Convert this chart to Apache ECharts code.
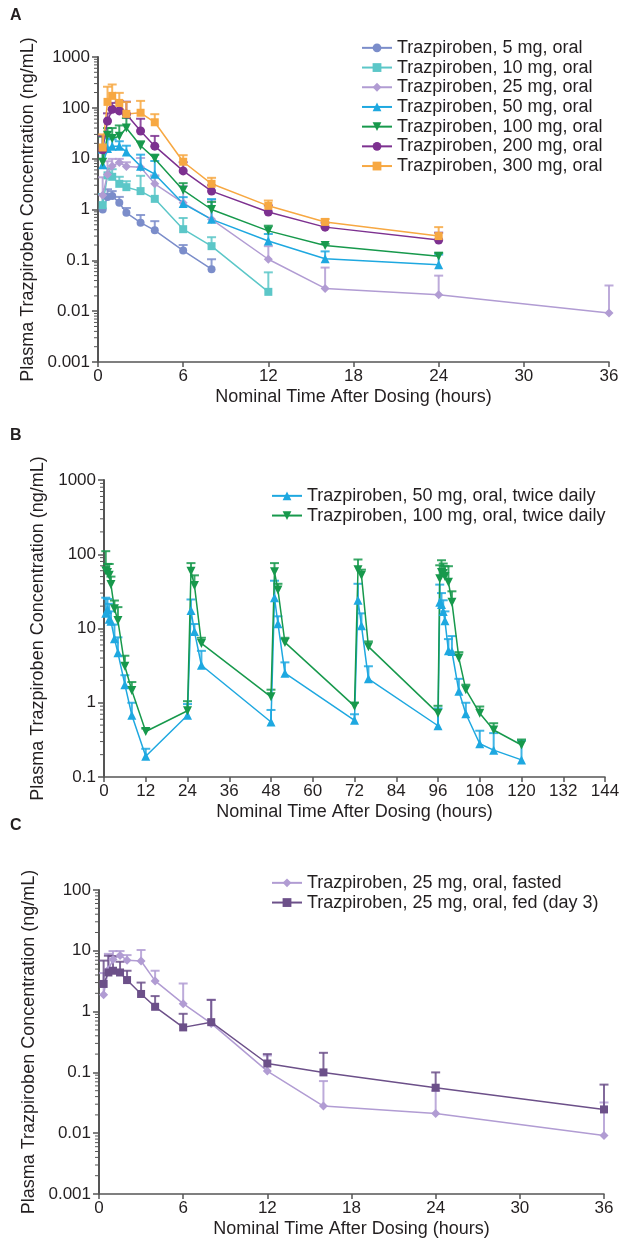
<!DOCTYPE html>
<html>
<head>
<meta charset="utf-8">
<script src="https://cdn.jsdelivr.net/npm/echarts@6/dist/echarts.min.js"></script>
<style>
  html, body { margin: 0; padding: 0; background: #fff; }
  #chart { width: 623px; height: 1241px; }
</style>
</head>
<body>
<div id="chart"></div>
<script>
// ---- Panel A: single oral doses ----
const timesA = [0.33, 0.67, 1, 1.5, 2, 3, 4, 6, 8, 12, 16, 24, 36];
const namesA = [
  'Trazpiroben, 5 mg, oral', 'Trazpiroben, 10 mg, oral', 'Trazpiroben, 25 mg, oral',
  'Trazpiroben, 50 mg, oral', 'Trazpiroben, 100 mg, oral', 'Trazpiroben, 200 mg, oral',
  'Trazpiroben, 300 mg, oral'
];
const mean5 = [1.0, 1.77, 1.85, 1.35, 0.86, 0.55, 0.39, 0.156, 0.067, null, null, null, null];
const upper5 = [2.0, 2.5, 2.3, 1.77, 1.07, 0.78, 0.59, 0.2, 0.105, null, null, null, null];
const mean10 = [1.22, 4.7, 4.4, 3.2, 2.75, 2.3, 1.62, 0.41, 0.19, 0.024, null, null, null];
const upper10 = [2.0, 6.5, 6.2, 4.4, 3.6, 4.6, 4.5, 0.68, 0.285, 0.058, null, null, null];
const mean25 = [1.9, 4.9, 7.2, 8.4, 7.0, 6.8, 3.2, 1.35, 0.64, 0.105, 0.028, 0.021, 0.0092];
const upper25 = [4.3, 8.9, 9.9, 9.9, 8.5, 10.3, 4.7, 2.9, 1.56, 0.19, 0.072, 0.05, 0.032];
const mean50 = [7.6, 15.9, 17.6, 17.6, 13.6, 7.1, 4.96, 1.31, 0.64, 0.24, 0.107, 0.082, null];
const upper50 = [13, 25, 24, 22, 18, 12, 9, 1.75, 1.6, 0.33, 0.15, 0.13, null];
const mean100 = [8.5, 29, 25, 27.7, 40, 17.9, 10, 2.4, 1.0, 0.38, 0.195, 0.12, null];
const upper100 = [27, 40, 40, 45, 63, 22, 12, 3.3, 1.41, 0.48, 0.21, 0.14, null];
const mean200 = [15, 55, 94, 87, 75, 35, 17.6, 5.75, 2.3, 0.89, 0.45, 0.25, null];
const upper200 = [28, 78, 125, 135, 132, 61, 28, 8.5, 3.0, 1.2, 0.55, 0.35, null];
const mean300 = [16.6, 131, 172, 125, 76, 80, 52, 8.7, 3.2, 1.18, 0.57, 0.3, null];
const upper300 = [30, 260, 288, 197, 130, 137, 75, 11.7, 4.2, 1.5, 0.65, 0.45, null];

// ---- Panel B: twice-daily dosing ----
const timesB = [0.5, 1, 1.5, 2, 3, 4, 6, 8, 12, 24, 25, 26, 28, 48, 49, 50, 52, 72, 73, 74, 76,
                96, 96.5, 97, 97.5, 98, 99, 100, 102, 104, 108, 112, 120];
const namesB = ['Trazpiroben, 50 mg, oral, twice daily', 'Trazpiroben, 100 mg, oral, twice daily'];
const meanB50 = [16, 18, 13.3, 12.5, 7.3, 4.7, 1.75, 0.68, 0.19, 0.68, 17.5, 9.1, 3.2, 0.55, 26, 11.6, 2.5,
                 0.58, 24, 10.9, 2.1, 0.49, 22.6, 21, 17, 12.7, 5.0, 4.9, 1.43, 0.71, 0.28, 0.23, 0.17];
const upperB50 = [26, 25, 21.5, 17, 11.3, 7.6, 2.35, 1.0, 0.24, 0.96, 24.6, 11.5, 5.0, 0.8, 44, 14.6, 3.5,
                  0.7, 40, 16, 3.1, 0.84, 39, 30, 24, 17, 7.2, 7.9, 2.1, 1.0, 0.42, 0.39, 0.31];
const meanB100 = [60, 57, 52, 39, 18.4, 12.8, 3.1, 1.46, 0.41, 0.78, 59, 38, 6.3, 1.2, 58, 33, 6.5,
                  0.9, 62, 52, 5.7, 0.72, 46.6, 57, 55, 50, 42, 22.6, 4.0, 1.5, 0.72, 0.43, 0.27];
const upperB100 = [110, 74, 74, 50, 23.8, 19.4, 4.3, 1.9, 0.45, 1.05, 76, 52, 7.5, 1.5, 76, 40, 7.5,
                   1.0, 85, 62, 6.7, 0.91, 71, 83, 75, 69, 69, 31.7, 4.8, 1.75, 0.89, 0.53, 0.32];

// ---- Panel C: fasted vs fed, 25 mg ----
const namesC = ['Trazpiroben, 25 mg, oral, fasted', 'Trazpiroben, 25 mg, oral, fed (day 3)'];
const meanFed = [2.85, 4.4, 4.7, 4.4, 3.3, 1.95, 1.2, 0.55, 0.67, 0.14, 0.1, 0.056, 0.0246];
const upperFed = [6.9, 8.3, 8.2, 6.6, 4.7, 3.0, 1.8, 0.92, 1.56, 0.2, 0.21, 0.1, 0.063];

// ---- Axis ticks ----
const ticksA = { min: 0, max: 36, interval: 6, yMin: 0.001, yMax: 1000 };
const ticksB = { min: 0, max: 144, interval: 12, yMin: 0.1, yMax: 1000 };
const ticksC = { min: 0, max: 36, interval: 6, yMin: 0.001, yMax: 100 };

const FONT = '"Liberation Sans", Arial, sans-serif';
const TXT = '#231f20';
const AXIS = '#555555';

const colorsA = ['#7b8dca', '#5cc7c8', '#b19cd3', '#1ea8e0', '#17994c', '#7d3190', '#f7a842'];
const downTri = 'path://M0,0 L10,0 L5,9 Z';
const symbolsA = ['circle', 'rect', 'diamond', 'triangle', downTri, 'circle', 'rect'];
const sizesA = [8, 8, 9, 9, 9, 9, 8];

function pairs(times, vals) {
  const out = [];
  times.forEach((t, i) => { if (vals[i] != null) out.push([t, vals[i]]); });
  return out;
}
function triples(times, vals, ups) {
  const out = [];
  times.forEach((t, i) => { if (vals[i] != null && ups[i] != null) out.push([t, vals[i], ups[i]]); });
  return out;
}

function lineSeries(idx, name, times, vals, color, symbol, size) {
  return {
    type: 'line', name, xAxisIndex: idx, yAxisIndex: idx,
    data: pairs(times, vals), color, symbol, symbolSize: size,
    showSymbol: true, lineStyle: { width: 1.5, color }, itemStyle: { color },
    z: 5, animation: false, clip: false
  };
}

// Upper error bars: a stem from the mean to mean+SD, finished with a cap
function errorSeries(idx, times, vals, ups, color) {
  return {
    type: 'custom', name: 'err' + idx + color, xAxisIndex: idx, yAxisIndex: idx,
    data: triples(times, vals, ups), clip: false, z: 3, animation: false, silent: true,
    encode: { x: 0, y: 1 },
    renderItem(params, api) {
      const p0 = api.coord([api.value(0), api.value(1)]);
      const p1 = api.coord([api.value(0), api.value(2)]);
      const st = { stroke: color, lineWidth: 2, opacity: 0.85 };
      return {
        type: 'group', children: [
          { type: 'line', shape: { x1: p0[0], y1: p0[1], x2: p1[0], y2: p1[1] }, style: st },
          { type: 'line', shape: { x1: p1[0] - 4.5, y1: p1[1], x2: p1[0] + 4.5, y2: p1[1] }, style: st }
        ]
      };
    }
  };
}

// Minor log ticks (2..9 per decade) along the left axis line
function minorTicks(idx, ymin, ymax) {
  const vals = [];
  for (let e = Math.round(Math.log10(ymin)); e < Math.round(Math.log10(ymax)); e++) {
    for (let k = 2; k <= 9; k++) vals.push([0, k * Math.pow(10, e)]);
  }
  return {
    type: 'custom', name: 'minor' + idx, xAxisIndex: idx, yAxisIndex: idx,
    data: vals, clip: false, silent: true, animation: false, z: 2,
    encode: { x: 0, y: 1 },
    renderItem(params, api) {
      const p = api.coord([api.value(0), api.value(1)]);
      return { type: 'line', shape: { x1: p[0] - 4, y1: p[1], x2: p[0], y2: p[1] },
               style: { stroke: AXIS, lineWidth: 1 } };
    }
  };
}

function xAxis(idx, t, name, gap) {
  return {
    type: 'value', gridIndex: idx, min: t.min, max: t.max, interval: t.interval,
    name, nameLocation: 'middle', nameGap: gap,
    nameTextStyle: { fontFamily: FONT, fontSize: 18, color: TXT },
    axisLine: { show: true, lineStyle: { color: AXIS, width: 1.5 } },
    axisTick: { show: true, length: 5, lineStyle: { color: AXIS, width: 1.5 } },
    axisLabel: { fontFamily: FONT, fontSize: 17, color: TXT, margin: 6 },
    splitLine: { show: false }
  };
}
function yAxis(idx, t, split) {
  return {
    type: 'log', logBase: 10, gridIndex: idx, min: t.yMin, max: t.yMax, splitNumber: split,
    name: 'Plasma Trazpiroben Concentration (ng/mL)', nameLocation: 'middle', nameGap: 57,
    nameTextStyle: { fontFamily: FONT, fontSize: 18, color: TXT },
    axisLine: { show: true, lineStyle: { color: AXIS, width: 2 } },
    axisTick: { show: true, length: 6, lineStyle: { color: AXIS, width: 1.5 } },
    axisLabel: {
      fontFamily: FONT, fontSize: 17, color: TXT, margin: 8,
      formatter: v => String(parseFloat(Number(v).toPrecision(4)))
    },
    splitLine: { show: false }
  };
}

function legend(names, left, top) {
  return {
    orient: 'vertical', left, top, data: names, itemWidth: 30, itemHeight: 11, itemGap: 0,
    textStyle: { fontFamily: FONT, fontSize: 18, color: TXT, lineHeight: 19.7 },
    selectedMode: false
  };
}

const series = [];
const meansA = [mean5, mean10, mean25, mean50, mean100, mean200, mean300];
const uppersA = [upper5, upper10, upper25, upper50, upper100, upper200, upper300];
meansA.forEach((m, i) => {
  series.push(errorSeries(0, timesA, m, uppersA[i], colorsA[i]));
  series.push(lineSeries(0, namesA[i], timesA, m, colorsA[i], symbolsA[i], sizesA[i]));
});
series.push(minorTicks(0, ticksA.yMin, ticksA.yMax));

series.push(errorSeries(1, timesB, meanB50, upperB50, colorsA[3]));
series.push(errorSeries(1, timesB, meanB100, upperB100, colorsA[4]));
series.push(lineSeries(1, namesB[0], timesB, meanB50, colorsA[3], 'triangle', 9));
series.push(lineSeries(1, namesB[1], timesB, meanB100, colorsA[4], downTri, 9));
series.push(minorTicks(1, ticksB.yMin, ticksB.yMax));

const colorFasted = '#b19cd3';
const colorFed = '#6c5089';
series.push(errorSeries(2, timesA, mean25, upper25, colorFasted));
series.push(errorSeries(2, timesA, meanFed, upperFed, colorFed));
series.push(lineSeries(2, namesC[0], timesA, mean25, colorFasted, 'diamond', 9));
series.push(lineSeries(2, namesC[1], timesA, meanFed, colorFed, 'rect', 8));
series.push(minorTicks(2, ticksC.yMin, ticksC.yMax));

const panelLabel = (text, top) => ({
  type: 'text', left: 10, top, style: { text, font: 'bold 16px ' + FONT, fill: TXT }
});

const option = {
  animation: false,
  backgroundColor: '#ffffff',
  grid: [
    { left: 98, top: 57, width: 511, height: 305 },
    { left: 104, top: 480, width: 501, height: 297 },
    { left: 99, top: 890, width: 505, height: 304 }
  ],
  xAxis: [
    xAxis(0, ticksA, 'Nominal Time After Dosing (hours)', 26),
    xAxis(1, ticksB, 'Nominal Time After Dosing (hours)', 26),
    xAxis(2, ticksC, 'Nominal Time After Dosing (hours)', 26)
  ],
  yAxis: [yAxis(0, ticksA, 6), yAxis(1, ticksB, 4), yAxis(2, ticksC, 5)],
  legend: [legend(namesA, 356, 33), legend(namesB, 266, 481), legend(namesC, 266, 868)],
  graphic: [panelLabel('A', 8), panelLabel('B', 428), panelLabel('C', 818)],
  series
};

const chart = echarts.init(document.getElementById('chart'), null, { renderer: 'canvas' });
chart.setOption(option);
</script>
</body>
</html>
